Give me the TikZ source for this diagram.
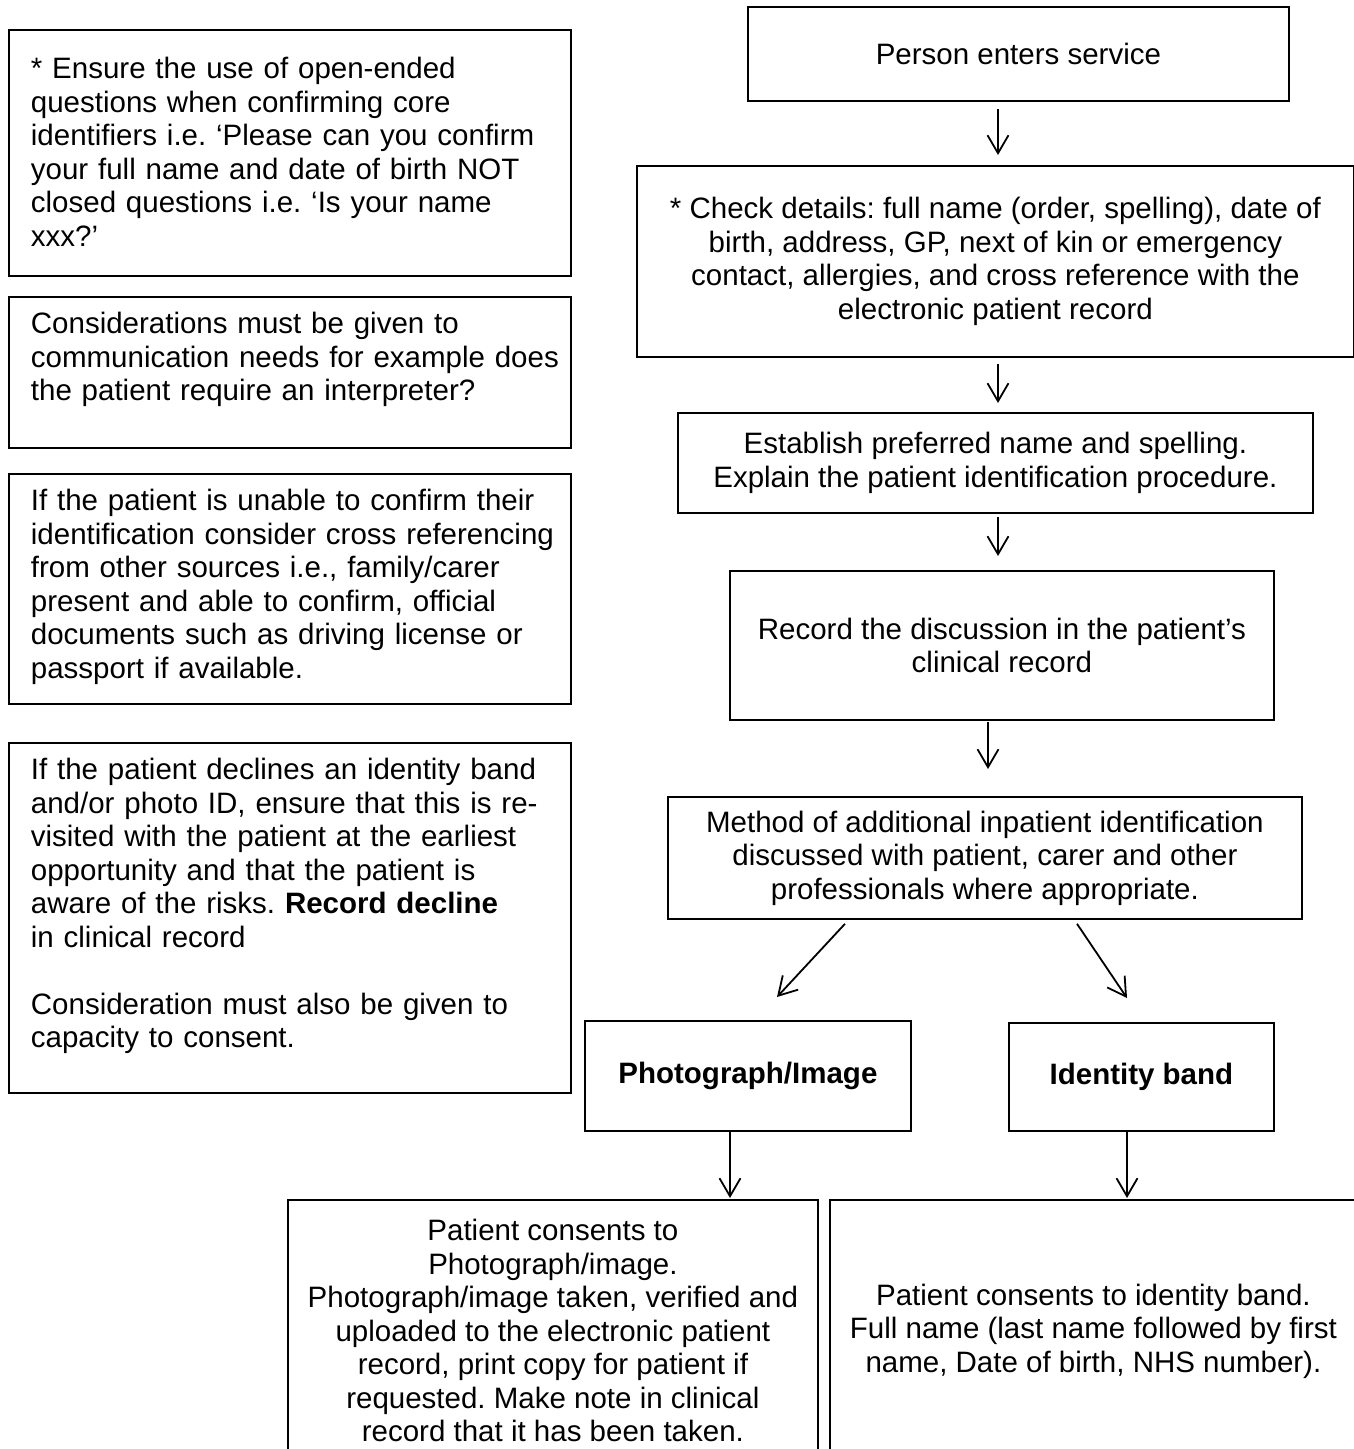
\documentclass[tikz,border=0pt]{standalone}
\usepackage{fontspec}
\setmainfont{Liberation Sans}
\frenchspacing
\usepackage{tikz}
\usetikzlibrary{arrows.meta,
  positioning
}
\tikzstyle{notebox} = [draw, line width=1.8pt, anchor=north west,
  inner xsep=0pt, inner ysep=0pt, text width=562pt, align=left,
  execute at begin node={\leftskip=22pt}]
\tikzstyle{stepbox} = [draw, line width=1.8pt, anchor=north west,
  inner sep=0pt, align=center]
\tikzstyle{flowarrow} = [line width=1.8pt,
  -{Straight Barb[length=18pt,width=21pt]}]

\begin{document}
\begin{tikzpicture}[x=1pt, y=-1pt, font=\fontsize{29.5}{33.5}\selectfont]
  \useasboundingbox (0,0) rectangle (1354,1449);
  \clip (0,0) rectangle (1354,1449);

  % notes down the left side
  \node[notebox, text height=49pt, text depth=197pt] (note1) at (8,29)
  {* Ensure the use of open-ended\\
    questions when confirming core\\
    identifiers i.e. ‘Please can you confirm\\
    your full name and date of birth NOT\\
    closed questions i.e. ‘Is your name\\
    xxx?’};
  \node[notebox, text height=37pt, text depth=114pt] (note2) at (8,296)
  {Considerations must be given to\\
    communication needs for example does\\
    the patient require an interpreter?};
  \node[notebox, text height=37pt, text depth=193pt] (note3) at (8,473)
  {If the patient is unable to confirm their\\
    identification consider cross referencing\\
    from other sources i.e., family/carer\\
    present and able to confirm, official\\
    documents such as driving license or\\
    passport if available.};
  \node[notebox, text height=37pt, text depth=313pt] (note4) at (8,742)
  {If the patient declines an identity band\\
    and/or photo ID, ensure that this is re-\\
    visited with the patient at the earliest\\
    opportunity and that the patient is\\
    aware of the risks. \textbf{Record decline}\\
    in clinical record\\[33.5pt]
    Consideration must also be given to\\
    capacity to consent.};

  % main flow
  \node[stepbox, minimum width=541pt, minimum height=94pt] (enter) at (747,6)
  {Person enters service};
  \node[stepbox, minimum width=717pt, minimum height=191pt] (check) at (636,165)
  {* Check details: full name (order, spelling), date of\\
    birth, address, GP, next of kin or emergency\\
    contact, allergies, and cross reference with the\\
    electronic patient record};
  \node[stepbox, minimum width=635pt, minimum height=100pt] (prefer) at (677,412)
  {Establish preferred name and spelling.\\
    Explain the patient identification procedure.};
  \node[stepbox, minimum width=544pt, minimum height=149pt] (discuss) at (729,570)
  {Record the discussion in the patient’s\\
    clinical record};
  \node[stepbox, minimum width=634pt, minimum height=122pt] (method) at (667,796)
  {Method of additional inpatient identification\\
    discussed with patient, carer and other\\
    professionals where appropriate.};
  \node[stepbox, minimum width=326pt, minimum height=110pt] (photo) at (584,1020)
  {\textbf{Photograph/Image}};
  \node[stepbox, minimum width=265pt, minimum height=108pt] (band) at (1008,1022)
  {\textbf{Identity band}};
  \node[stepbox, minimum width=530pt, minimum height=262pt] (photook) at (287,1199)
  {Patient consents to\\
    Photograph/image.\\
    Photograph/image taken, verified and\\
    uploaded to the electronic patient\\
    record, print copy for patient if\\
    requested. Make note in clinical\\
    record that it has been taken.};
  \node[stepbox, minimum width=527pt, minimum height=262pt] (bandok) at (829,1199)
  {Patient consents to identity band.\\
    Full name (last name followed by first\\
    name, Date of birth, NHS number).};

  % arrows
  \coordinate (col1) at (998,0);
  \coordinate (col2) at (988,0);
  \coordinate (col3) at (730,0);
  \coordinate (col4) at (1127,0);
  \draw[flowarrow, shorten <=7pt, shorten >=10pt] (enter.south -| col1) -- (check.north -| col1);
  \draw[flowarrow, shorten <=6pt, shorten >=9pt] (check.south -| col1) -- (prefer.north -| col1);
  \draw[flowarrow, shorten <=3pt, shorten >=14pt] (prefer.south -| col1) -- (discuss.north -| col1);
  \draw[flowarrow, shorten <=1pt, shorten >=27pt] (discuss.south -| col2) -- (method.north -| col2);
  \draw[flowarrow] ([xshift=178pt,yshift=-4pt]method.south west) -- ([xshift=193pt,yshift=23pt]photo.north west);
  \draw[flowarrow] ([xshift=410pt,yshift=-4pt]method.south west) -- ([xshift=119pt,yshift=24pt]band.north west);
  \draw[flowarrow, shorten >=1pt] (photo.south -| col3) -- (photook.north -| col3);
  \draw[flowarrow, shorten >=1pt] (band.south -| col4) -- (bandok.north -| col4);
\end{tikzpicture}
\end{document}
